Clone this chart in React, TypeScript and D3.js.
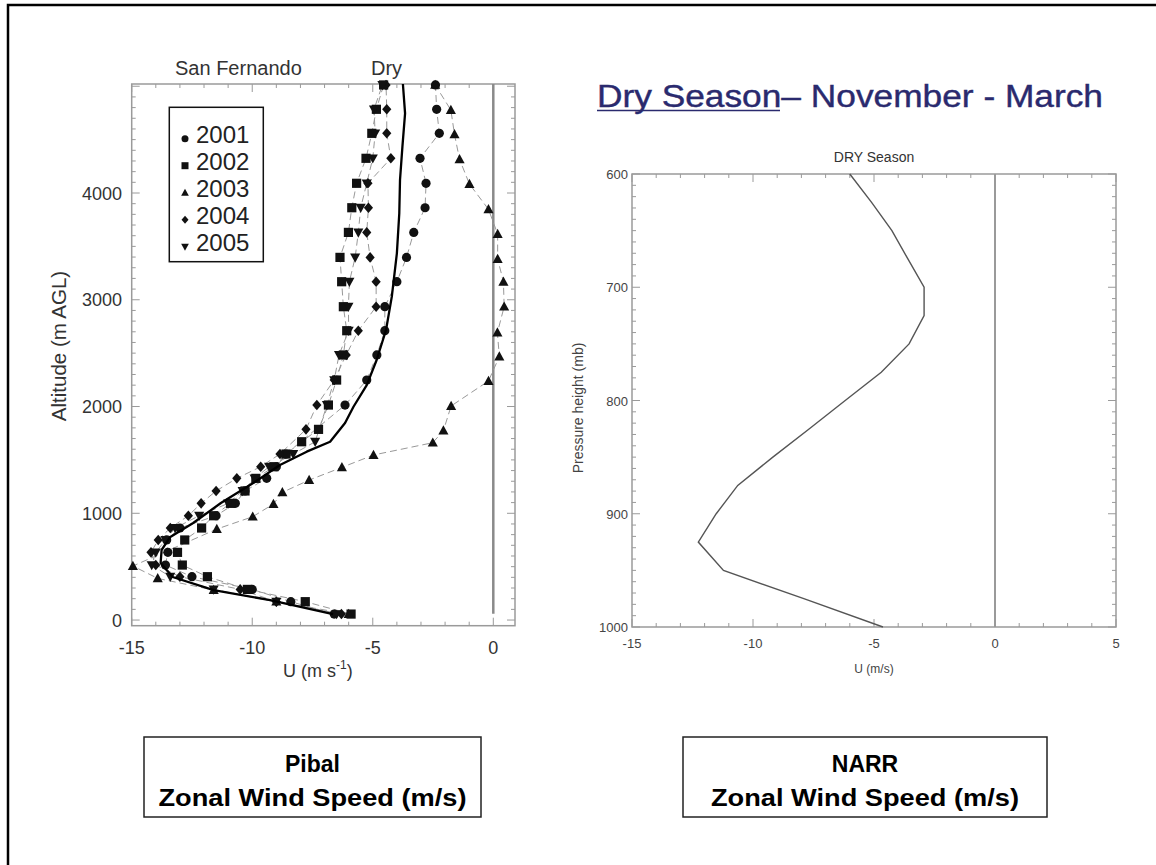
import React from 'react';
import * as d3 from 'd3';

// ---------- Pibal (left) data ----------
const YEARS = ['2001', '2002', '2003', '2004', '2005'];
const LEVELS = [56, 172, 287, 406, 515, 634, 750, 862, 977, 1093, 1209, 1327, 1436, 1555, 1670, 1786, 2014, 2248, 2483, 2710, 2935, 3169, 3397, 3631, 3862, 4091, 4325, 4559, 4784, 5012];
const U2001 = [-6.6, -8.4, -10.0, -12.5, -13.6, -13.5, -13.55, -13.0, -11.5, -10.7, -10.3, -9.4, -9.0, -8.6, null, null, -6.15, -5.25, -4.83, -4.5, -4.5, -4.0, -3.6, -3.3, -2.83, -2.79, -3.04, -2.24, -2.35, -2.4];
const U2002 = [-5.9, -7.8, -10.2, -11.86, -12.9, -13.1, -12.8, -12.1, -11.6, -10.9, -10.3, -9.85, -9.1, -8.6, -7.95, -7.25, -6.84, -6.5, -6.22, -6.08, -6.22, -6.29, -6.36, -6.01, -5.87, -5.67, -5.28, -5.04, -4.85, -4.55];
const ALT2003 = [56, 172, 281, 390, 506, 852, 968, 1087, 1196, 1311, 1430, 1546, 1661, 1774, 2005, 2239, 2467, 2692, 2935, 3169, 3382, 3616, 3847, 4084, 4315, 4549, 4777, 5012];
const U2003 = [-6.0, -9.0, -11.6, -13.92, -14.95, -11.47, -9.98, -9.12, -8.75, -7.64, -6.28, -4.97, -2.51, -2.07, -1.75, -0.2, 0.25, 0.17, 0.45, 0.42, 0.18, 0.18, -0.2, -0.99, -1.4, -1.61, -1.76, -2.41];
const U2004 = [-6.3, -9.0, -10.5, -13.0, -14.0, -14.2, -13.9, -13.4, -12.65, -12.12, -11.5, -10.64, -9.65, -8.85, null, -7.77, -7.32, -6.6, -6.1, -5.6, -4.86, -4.86, -5.11, -5.25, -5.18, -5.2, -4.25, -4.42, -4.42, -4.45];
const U2005 = [-6.5, -9.0, -11.6, -13.4, -14.17, -14.0, -13.6, -13.2, -12.2, -11.0, -10.4, -9.9, -9.3, -8.3, -7.39, null, -6.9, -6.6, -6.4, -6.0, -6.01, -5.97, -5.73, -5.6, -5.5, -5.25, -5.0, -4.9, -4.95, -4.6];
const MEAN_ALT = [56, 187, 281, 403, 534, 656, 778, 909, 1096, 1283, 1452, 1577, 1670, 1845, 1998, 2201, 2436, 2717, 3029, 3435, 3810, 4122, 4434, 4746, 5021];
const MEAN_U = [-6.65, -9.26, -11.6, -13.3, -13.8, -13.76, -13.4, -12.45, -11.3, -9.96, -8.85, -7.74, -6.77, -6.15, -5.8, -5.25, -4.84, -4.45, -4.21, -4.0, -3.9, -3.87, -3.77, -3.66, -3.75];
const LEFT_X_TICKS = [-15, -10, -5, 0];
const LEFT_Y_TICKS = [0, 1000, 2000, 3000, 4000];

// ---------- NARR (right) data ----------
const NARR_P = [600, 625, 650, 675, 700, 725, 750, 775, 800, 825, 850, 875, 900, 925, 950, 975, 1000];
const NARR_U = [-6.0, -5.1, -4.26, -3.6, -2.93, -2.93, -3.55, -4.7, -6.19, -7.67, -9.18, -10.63, -11.52, -12.26, -11.22, -7.9, -4.63];
const RIGHT_X_TICKS = [-15, -10, -5, 0, 5];
const RIGHT_Y_TICKS = [600, 700, 800, 900, 1000];

const L = { x0: 131.7, x1: 515, y0: 84, y1: 625.7 };
const R = { x0: 632, x1: 1116, y0: 174, y1: 627 };

const SANS = "'Liberation Sans', Arial, Helvetica, sans-serif";

function markerPath(kind: string, s: number): string {
  const h = s / 2;
  switch (kind) {
    case 'circle':
      return d3.symbol(d3.symbolCircle, Math.PI * h * h)() as string;
    case 'square':
      return `M${-h},${-h}H${h}V${h}H${-h}Z`;
    case 'triangle':
      return `M0,${-h * 1.15}L${h * 1.1},${h * 0.85}L${-h * 1.1},${h * 0.85}Z`;
    case 'diamond':
      return `M0,${-h * 1.15}L${h},0L0,${h * 1.15}L${-h},0Z`;
    default:
      return `M0,${h * 1.15}L${h * 1.1},${-h * 0.85}L${-h * 1.1},${-h * 0.85}Z`;
  }
}

export default function App() {
  const xL = d3.scaleLinear().domain([-15, 0.9]).range([L.x0, L.x1]);
  const yL = d3.scaleLinear().domain([-53, 5021]).range([L.y1, L.y0]);
  const xR = d3.scaleLinear().domain([-15, 5]).range([R.x0, R.x1]);
  const yR = d3.scaleLinear().domain([600, 1000]).range([R.y0, R.y1]);

  const series = [
    { name: YEARS[0], kind: 'circle', alt: LEVELS, u: U2001 },
    { name: YEARS[1], kind: 'square', alt: LEVELS, u: U2002 },
    { name: YEARS[2], kind: 'triangle', alt: ALT2003, u: U2003 },
    { name: YEARS[3], kind: 'diamond', alt: LEVELS, u: U2004 },
    { name: YEARS[4], kind: 'down', alt: LEVELS, u: U2005 },
  ].map((s) => ({
    ...s,
    pts: s.alt
      .map((a, i) => ({ a, u: s.u[i] as number | null }))
      .filter((p) => p.u !== null) as { a: number; u: number }[],
  }));

  const lineL = d3
    .line<{ a: number; u: number }>()
    .x((d) => xL(d.u))
    .y((d) => yL(d.a));
  const meanPts = MEAN_ALT.map((a, i) => ({ a, u: MEAN_U[i] }));
  const narrPts = NARR_P.map((p, i) => ({ p, u: NARR_U[i] }));
  const lineR = d3
    .line<{ p: number; u: number }>()
    .x((d) => xR(d.u))
    .y((d) => yR(d.p));

  const axisCol = '#9a9a9a';

  const lxMinor = d3.range(-15, 1, 1);
  const lyMinor = d3.range(0, 5001, 100);
  const rxMinor = d3.range(-15, 6, 1);
  const ryMinor = d3.range(600, 1001, 10);

  return (
    <svg
      width={1156}
      height={865}
      style={{ position: 'absolute', left: 0, top: 0, background: '#fff' }}
      fontFamily={SANS}
    >
      <rect x={0} y={0} width={1156} height={865} fill="#fff" />
      <path d="M8,866 V5 H1157" fill="none" stroke="#000" strokeWidth={2.5} />

      {/* ================= LEFT: Pibal ================= */}
      <text x={175} y={75} fontSize={20} fill="#333">San Fernando</text>
      <text x={371} y={75} fontSize={20} fill="#333">Dry</text>

      <g stroke={axisCol} strokeWidth={1}>
        {lxMinor.map((v) => {
          const major = v % 5 === 0;
          const len = major ? 8 : 4;
          return (
            <g key={'lx' + v}>
              <line x1={xL(v)} x2={xL(v)} y1={L.y1} y2={L.y1 - len} />
              <line x1={xL(v)} x2={xL(v)} y1={L.y0} y2={L.y0 + len} />
            </g>
          );
        })}
        {lyMinor.map((v) => {
          const major = v % 1000 === 0;
          const len = major ? 8 : 4;
          return (
            <g key={'ly' + v}>
              <line x1={L.x0} x2={L.x0 + len} y1={yL(v)} y2={yL(v)} />
              <line x1={L.x1} x2={L.x1 - len} y1={yL(v)} y2={yL(v)} />
            </g>
          );
        })}
      </g>
      <rect x={L.x0} y={L.y0} width={L.x1 - L.x0} height={L.y1 - L.y0} fill="none" stroke={axisCol} strokeWidth={1.5} />

      <line x1={xL(0)} x2={xL(0)} y1={yL(60)} y2={L.y0} stroke="#8a8a8a" strokeWidth={2.5} />

      {series.map((s) => (
        <path key={'ln' + s.name} d={lineL(s.pts) as string} fill="none" stroke="#999" strokeWidth={1} strokeDasharray="7,4" />
      ))}
      {series.map((s) => (
        <g key={'mk' + s.name} fill="#111">
          {s.pts.map((p, i) => (
            <path key={i} d={markerPath(s.kind, 9.2)} transform={`translate(${xL(p.u)},${yL(p.a)})`} />
          ))}
        </g>
      ))}
      <path d={lineL(meanPts) as string} fill="none" stroke="#000" strokeWidth={2.3} strokeLinejoin="round" />

      {LEFT_X_TICKS.map((v) => (
        <text key={'lxt' + v} x={xL(v)} y={654} fontSize={18} fill="#333" textAnchor="middle">{v}</text>
      ))}
      {LEFT_Y_TICKS.map((v) => (
        <text key={'lyt' + v} x={122} y={yL(v) + 6.5} fontSize={18} fill="#333" textAnchor="end">{v}</text>
      ))}
      <text x={283} y={677} fontSize={18} fill="#333">
        U (m s<tspan fontSize={12} dy={-8}>-1</tspan><tspan fontSize={18} dy={8}>)</tspan>
      </text>
      <text transform="translate(66,346) rotate(-90)" fontSize={20.5} fill="#333" textAnchor="middle">Altitude (m AGL)</text>

      {/* legend */}
      <rect x={169.3} y={107.3} width={94} height={154.4} fill="#fff" stroke="#111" strokeWidth={1.5} />
      {series.map((s, i) => {
        const base = 142.7 + i * 27;
        return (
          <g key={'lg' + s.name}>
            <path d={markerPath(s.kind, 7)} transform={`translate(185,${base - 4})`} fill="#111" />
            <text x={196} y={base} fontSize={24} fill="#222">{s.name}</text>
          </g>
        );
      })}

      {/* ================= RIGHT: NARR ================= */}
      <text x={597} y={107} fontSize={31} fill="#2a2a6e" stroke="#2a2a6e" strokeWidth={0.4} textLength={506} lengthAdjust="spacingAndGlyphs">Dry Season– November - March</text>
      <line x1={597} x2={780} y1={110.5} y2={110.5} stroke="#2a2a6e" strokeWidth={1.5} />

      <text x={(R.x0 + R.x1) / 2} y={162} fontSize={14} fill="#333" textAnchor="middle">DRY Season</text>

      <g stroke={axisCol} strokeWidth={1}>
        {rxMinor.map((v) => {
          const major = v % 5 === 0;
          const len = major ? 8 : 4;
          return (
            <g key={'rx' + v}>
              <line x1={xR(v)} x2={xR(v)} y1={R.y1} y2={R.y1 - len} />
              <line x1={xR(v)} x2={xR(v)} y1={R.y0} y2={R.y0 + len} />
            </g>
          );
        })}
        {ryMinor.map((v) => {
          const major = v % 100 === 0;
          const len = major ? 8 : 4;
          return (
            <g key={'ry' + v}>
              <line x1={R.x0} x2={R.x0 + len} y1={yR(v)} y2={yR(v)} />
              <line x1={R.x1} x2={R.x1 - len} y1={yR(v)} y2={yR(v)} />
            </g>
          );
        })}
      </g>
      <rect x={R.x0} y={R.y0} width={R.x1 - R.x0} height={R.y1 - R.y0} fill="none" stroke={axisCol} strokeWidth={1.5} />
      <line x1={xR(0)} x2={xR(0)} y1={R.y0} y2={R.y1} stroke="#9a9a9a" strokeWidth={2} />
      <path d={lineR(narrPts) as string} fill="none" stroke="#555" strokeWidth={1.4} />

      {RIGHT_X_TICKS.map((v) => (
        <text key={'rxt' + v} x={xR(v)} y={648} fontSize={13} fill="#444" textAnchor="middle">{v}</text>
      ))}
      {RIGHT_Y_TICKS.map((v) => (
        <text key={'ryt' + v} x={628} y={yR(v) + 5} fontSize={13} fill="#444" textAnchor="end">{v}</text>
      ))}
      <text x={(R.x0 + R.x1) / 2} y={673} fontSize={12} fill="#444" textAnchor="middle">U (m/s)</text>
      <text transform="translate(583,408) rotate(-90)" fontSize={14} fill="#444" textAnchor="middle">Pressure height (mb)</text>

      {/* ================= caption boxes ================= */}
      <rect x={144} y={737} width={337} height={80} fill="#fff" stroke="#222" strokeWidth={1.5} />
      <text x={312.5} y={772} fontSize={23} fontWeight="bold" fill="#000" textAnchor="middle">Pibal</text>
      <text x={312.5} y={806} fontSize={23} fontWeight="bold" fill="#000" textAnchor="middle" textLength={308} lengthAdjust="spacingAndGlyphs">Zonal Wind Speed (m/s)</text>

      <rect x={683} y={737} width={364} height={80} fill="#fff" stroke="#222" strokeWidth={1.5} />
      <text x={865} y={772} fontSize={23} fontWeight="bold" fill="#000" textAnchor="middle">NARR</text>
      <text x={865} y={806} fontSize={23} fontWeight="bold" fill="#000" textAnchor="middle" textLength={308} lengthAdjust="spacingAndGlyphs">Zonal Wind Speed (m/s)</text>
    </svg>
  );
}
